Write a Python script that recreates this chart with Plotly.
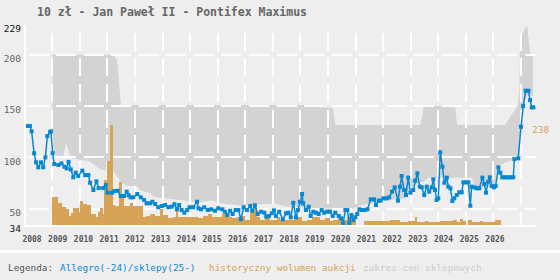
import plotly.graph_objects as go

title = "10 zł - Jan Paweł II - Pontifex Maximus"

# Allegro / shop price series (decimal year, zł)
price_x = [2008.05, 2008.19, 2008.25, 2008.34, 2008.41, 2008.49, 2008.59, 2008.67, 2008.75, 2008.82,
           2008.92, 2008.95, 2009.01, 2009.07, 2009.22, 2009.33, 2009.44, 2009.52, 2009.59, 2009.67,
           2009.76, 2009.85, 2009.94, 2010.09, 2010.19, 2010.31, 2010.37, 2010.49, 2010.60, 2010.68,
           2010.85, 2010.94, 2011.00, 2011.17, 2011.25, 2011.37, 2011.48, 2011.60, 2011.70, 2011.77,
           2011.84, 2011.94, 2012.08, 2012.21, 2012.33, 2012.42, 2012.54, 2012.63, 2012.73, 2012.84,
           2012.97, 2013.09, 2013.21, 2013.33, 2013.43, 2013.52, 2013.60, 2013.69, 2013.79, 2013.89,
           2013.98, 2014.11, 2014.25, 2014.30, 2014.39, 2014.51, 2014.64, 2014.76, 2014.90, 2015.02,
           2015.17, 2015.26, 2015.35, 2015.45, 2015.54, 2015.65, 2015.75, 2015.84, 2015.94, 2016.06,
           2016.18, 2016.25, 2016.35, 2016.45, 2016.57, 2016.69, 2016.76, 2016.86, 2016.96, 2017.04,
           2017.11, 2017.23, 2017.36, 2017.48, 2017.56, 2017.65, 2017.74, 2017.84, 2017.91, 2017.98,
           2018.06, 2018.10, 2018.20, 2018.30, 2018.37, 2018.47, 2018.56, 2018.66, 2018.77, 2018.86,
           2018.97, 2019.07, 2019.17, 2019.26, 2019.39, 2019.48, 2019.55, 2019.63, 2019.70, 2019.77,
           2019.85, 2019.92, 2019.99, 2020.06, 2020.14, 2020.23, 2020.33, 2020.43, 2020.55, 2020.67,
           2020.74, 2020.84, 2020.91, 2021.01, 2021.13, 2021.22, 2021.32, 2021.42, 2021.54, 2021.61,
           2021.67, 2021.76, 2021.83, 2021.91, 2021.99, 2022.09, 2022.16, 2022.24, 2022.33, 2022.40,
           2022.49, 2022.58, 2022.67, 2022.76, 2022.82, 2022.88, 2022.94, 2023.00, 2023.07, 2023.15,
           2023.22, 2023.31, 2023.36, 2023.44, 2023.51, 2023.58, 2023.67, 2023.76, 2023.85, 2023.91,
           2023.99, 2024.09, 2024.16, 2024.21, 2024.31, 2024.39, 2024.49, 2024.60, 2024.67, 2024.73,
           2024.81, 2024.87, 2024.94, 2025.02, 2025.08, 2025.18, 2025.25, 2025.32, 2025.40, 2025.47,
           2025.54, 2025.62, 2025.72, 2025.76, 2025.90, 2026.00, 2026.08, 2026.17, 2026.27, 2026.33,
           2026.39, 2026.45]
price_y = [130.5, 130.5, 125.3, 103.9, 95.1, 90.2, 95.1, 90.2, 100.0, 120.7,
           124.6, 125.3, 104.0, 93.5, 92.5, 94.1, 90.8, 89.2, 95.6, 88.2,
           80.5, 85.0, 81.8, 87.0, 82.7, 82.7, 75.2, 68.1, 76.5, 70.0,
           70.0, 73.0, 65.5, 65.5, 67.1, 67.4, 62.3, 62.3, 66.5, 63.0,
           61.0, 61.0, 64.2, 61.0, 58.4, 55.2, 55.2, 56.7, 54.5, 51.3,
           52.5, 53.5, 51.3, 51.8, 54.2, 49.3, 53.5, 48.6, 46.0, 48.6,
           51.3, 51.3, 56.7, 50.3, 49.3, 51.3, 48.6, 49.3, 47.9, 50.3,
           49.3, 47.0, 43.7, 47.9, 44.7, 48.6, 48.6, 39.6, 51.3, 48.6,
           52.5, 47.9, 53.2, 44.7, 47.0, 46.0, 42.1, 42.8, 45.4, 48.2,
           42.8, 47.0, 39.6, 45.4, 46.0, 41.5, 55.7, 41.5, 48.6, 56.7,
           64.2, 55.2, 48.6, 51.8, 42.8, 47.0, 46.0, 44.7, 48.6, 46.0,
           47.0, 47.0, 42.8, 46.0, 42.8, 40.5, 35.7, 48.6, 48.6, 35.7,
           43.7, 38.9, 41.5, 44.7, 49.3, 48.6, 48.6, 49.3, 59.0, 59.0,
           53.5, 57.7, 57.7, 60.0, 60.0, 61.0, 66.5, 70.7, 57.7, 71.4,
           81.8, 68.1, 63.2, 80.2, 65.5, 68.1, 77.2, 84.4, 71.4, 70.7,
           63.2, 71.4, 66.5, 70.7, 78.5, 68.1, 58.4, 60.0, 104.9, 90.8,
           75.2, 80.2, 71.4, 69.8, 57.4, 60.0, 63.2, 65.9, 65.9, 75.6,
           75.6, 75.6, 52.8, 71.4, 70.7, 69.8, 69.8, 80.2, 74.0, 65.5,
           76.2, 80.5, 72.0, 70.7, 72.0, 90.2, 85.0, 80.5, 80.5, 80.5,
           80.5, 80.5, 80.5, 98.3, 99.0, 129.8, 150.0, 164.9, 164.9, 155.8,
           148.7, 148.7]

# historical auction volume (segments)
vol_start = [2009.00, 2009.21, 2009.35, 2009.50, 2009.61, 2009.68, 2009.75, 2009.97, 2010.00, 2010.11,
             2010.26, 2010.40, 2010.44, 2010.59, 2010.66, 2010.73, 2010.84, 2010.91, 2010.98, 2011.09,
             2011.20, 2011.27, 2011.42, 2011.53, 2011.60, 2011.71, 2011.82, 2011.93, 2012.07, 2012.29,
             2012.40, 2012.54, 2012.73, 2012.91, 2013.02, 2013.20, 2013.38, 2013.52, 2013.56, 2013.81,
             2014.07, 2014.28, 2014.47, 2014.65, 2014.79, 2014.97, 2015.16, 2015.34, 2015.52, 2015.70,
             2015.88, 2015.99, 2016.17, 2016.28, 2016.42, 2016.53, 2016.72, 2016.90, 2017.15, 2017.26,
             2017.62, 2017.80, 2018.06, 2018.24, 2018.42, 2018.71, 2018.89, 2019.07, 2019.18, 2019.36,
             2019.51, 2019.69, 2019.87,
             2020.31, 2020.52, 2020.89, 2021.25, 2021.61, 2021.90, 2022.16, 2022.23, 2022.52, 2022.63,
             2023.06, 2023.53, 2023.68, 2023.79, 2023.90,
             2024.08, 2024.22, 2024.51, 2024.62, 2025.06]
vol_end = [2009.21, 2009.35, 2009.50, 2009.61, 2009.68, 2009.75, 2009.97, 2010.00, 2010.11, 2010.26,
           2010.40, 2010.44, 2010.59, 2010.66, 2010.73, 2010.84, 2010.91, 2010.98, 2011.09, 2011.20,
           2011.27, 2011.42, 2011.53, 2011.60, 2011.71, 2011.82, 2011.93, 2012.07, 2012.29, 2012.40,
           2012.54, 2012.73, 2012.91, 2013.02, 2013.20, 2013.38, 2013.52, 2013.56, 2013.81, 2014.07,
           2014.28, 2014.47, 2014.65, 2014.79, 2014.97, 2015.16, 2015.34, 2015.52, 2015.70, 2015.88,
           2015.99, 2016.17, 2016.28, 2016.42, 2016.53, 2016.72, 2016.90, 2017.15, 2017.26, 2017.62,
           2017.80, 2018.06, 2018.24, 2018.42, 2018.71, 2018.89, 2019.07, 2019.18, 2019.36, 2019.51,
           2019.69, 2019.87, 2020.02,
           2020.52, 2020.89, 2021.25, 2021.61, 2021.90, 2022.16, 2022.23, 2022.52, 2022.63, 2023.06,
           2023.53, 2023.68, 2023.79, 2023.90, 2024.01,
           2024.22, 2024.51, 2024.62, 2025.06, 2025.28]
vol_value = [66, 52, 42, 37, 21, 29, 40, 31, 58, 50,
             48, 27, 26, 20, 31, 41, 26, 107, 153, 238,
             48, 45, 103, 66, 45, 46, 52, 46, 46, 20,
             21, 26, 21, 37, 24, 16, 18, 40, 18, 20,
             18, 16, 21, 26, 18, 20, 26, 18, 16, 18,
             21, 13, 31, 40, 18, 13, 16, 13, 18, 12,
             13, 18, 10, 12, 18, 13, 16, 10, 12, 16,
             12, 18, 12,
             9, 10, 9, 12, 7, 9, 18, 8, 10, 8,
             9, 13, 8, 15, 10,
             12, 8, 10, 7, 12]

# shop price range
band_x = [2009.00, 2009.10, 2009.28, 2009.39, 2009.50, 2009.66, 2009.71, 2010.08, 2010.37, 2010.73,
          2011.20, 2011.35, 2011.41, 2011.46, 2011.49, 2011.71, 2012.07, 2012.18, 2012.54, 2012.73,
          2013.16, 2013.81, 2014.25, 2014.79, 2015.16, 2015.81, 2017.08, 2017.44, 2018.09, 2019.18,
          2019.27, 2019.80, 2020.16, 2020.52, 2021.14, 2021.79, 2021.90, 2022.34, 2022.43, 2022.46,
          2022.63, 2023.61, 2023.68, 2024.22, 2024.33, 2025.06, 2025.13, 2025.42, 2025.89, 2025.94,
          2025.96, 2026.03, 2026.12, 2026.18, 2026.23, 2026.30, 2026.36, 2026.44]
band_low = [107, 103, 99, 100, 114, 100, 99, 97, 96, 88,
            87, 81, 80, 76, 76, 72, 72, 68, 65, 61,
            60, 58, 56, 58, 55, 53, 55, 52, 51, 50,
            50, 48.6, 53, 55, 58, 60, 68, 76, 76, 76,
            80, 80, 80, 80, 71, 71, 90, 95, 99, 110,
            120, 130, 150, 158, 160, 160, 160, 160]
band_high = [200, 200, 200, 200, 200, 200, 200, 200, 200, 200,
             200, 195, 178, 160, 151, 151, 151, 151, 151, 151,
             151, 151, 151, 151, 151, 151, 151, 151, 151, 148,
             131.5, 131.5, 131.5, 131.5, 131.5, 131.5, 131.5, 131.5, 141, 150,
             150, 150, 131.5, 131.5, 131.5, 131.5, 131.5, 131.5, 151, 166,
             200, 220, 224, 227, 229, 208, 200, 200]

grid_years = list(range(2009, 2027))
year_labels = [str(y) for y in range(2008, 2027)]
grid_prices = [200, 150, 100, 50]
price_ticks = [229, 200, 150, 100, 50, 34]

X0, X1 = 2008.046, 2026.544
Y0, Y1 = 34, 229
VOL_TOP = 476

BG = "#eeeeee"
BLUE = "#0a88cf"
ORANGE = "#d6a357"
BAND = "#d3d3d3"
MONO = "DejaVu Sans Mono"
CLEAR = "rgba(0,0,0,0)"

fig = go.Figure()

# band (subplot 1)
fig.add_trace(go.Scatter(x=band_x, y=band_low, mode="lines", line=dict(width=0, color=BAND),
                         xaxis="x", yaxis="y", showlegend=False, hoverinfo="skip"))
fig.add_trace(go.Scatter(x=band_x, y=band_high, mode="lines", line=dict(width=0, color=BAND),
                         fill="tonexty", fillcolor=BAND, xaxis="x", yaxis="y",
                         showlegend=False, hoverinfo="skip"))

# placeholder trace for grid subplot
fig.add_trace(go.Scatter(x=[X0], y=[Y0], mode="markers", marker=dict(size=1, opacity=0),
                         xaxis="x2", yaxis="y2", showlegend=False, hoverinfo="skip"))

# volume bars (subplot 3)
fig.add_trace(go.Bar(x=[(a + b) / 2 for a, b in zip(vol_start, vol_end)],
                     y=vol_value, width=[b - a for a, b in zip(vol_start, vol_end)],
                     marker=dict(color=ORANGE, line=dict(width=0)),
                     xaxis="x3", yaxis="y3", showlegend=False, hoverinfo="skip"))

# price line (subplot 4)
fig.add_trace(go.Scatter(x=price_x, y=price_y, mode="lines+markers",
                         line=dict(color=BLUE, width=1.5),
                         marker=dict(symbol="square", size=4, color=BLUE, line=dict(width=0)),
                         xaxis="x4", yaxis="y4", showlegend=False, hoverinfo="skip"))

hidden = dict(visible=False, fixedrange=True)
label_pos = [2008.264 + 0.9329 * i for i in range(len(year_labels))]
ytext = []
for v in price_ticks:
    col = "#111111" if v in (229, 34) else "#666666"
    ytext.append(f"<span style='color:{col}'>{v}</span>")

fig.update_layout(
    width=560, height=280,
    margin=dict(l=26, r=24, t=25, b=55, autoexpand=False),
    paper_bgcolor=BG, plot_bgcolor=CLEAR,
    showlegend=False, bargap=0,
    xaxis=dict(range=[X0, X1], anchor="y", **hidden),
    yaxis=dict(range=[Y0, Y1], anchor="x", **hidden),
    xaxis2=dict(range=[X0, X1], anchor="y2", tickmode="array", tickvals=grid_years,
                showticklabels=False, ticks="", showgrid=True, gridcolor="white", gridwidth=1.5,
                griddash="0px,7.64px,18px,0px", zeroline=False,
                showline=True, linecolor="white", linewidth=1.5, fixedrange=True),
    yaxis2=dict(range=[Y0, Y1], anchor="x2", tickmode="array", tickvals=grid_prices,
                showticklabels=False, ticks="", showgrid=True, gridcolor="white", gridwidth=1.5,
                griddash="0px,2.5px,20px,5.07px", zeroline=False,
                showline=True, linecolor="white", linewidth=1.5, fixedrange=True),
    xaxis3=dict(range=[X0, X1], anchor="y3", tickmode="array", tickvals=label_pos,
                ticktext=year_labels, showgrid=False, zeroline=False, showline=False, ticks="",
                ticklabelstandoff=8,
                tickfont=dict(family=MONO, size=8, color="#555555", weight="bold"), fixedrange=True),
    yaxis3=dict(range=[0, VOL_TOP], anchor="x3", **hidden),
    xaxis4=dict(range=[X0, X1], anchor="y4", **hidden),
    yaxis4=dict(range=[Y0, Y1], anchor="x4", tickmode="array", tickvals=price_ticks,
                ticktext=ytext, showgrid=False, zeroline=False, showline=False, ticks="",
                ticklabelstandoff=4, ticklabelshift=4,
                tickfont=dict(family=MONO, size=9.5, color="#666666"), fixedrange=True),
)

vmax = max(vol_value)
fig.add_annotation(x=price_x[-1] - 0.12, y=vmax, xref="x3", yref="y3", text=str(vmax),
                   showarrow=False, xanchor="left", yanchor="middle", yshift=-4,
                   font=dict(family=MONO, size=9.5, color=ORANGE))

fig.add_annotation(x=(35 - 26) / 510, y=(225 - 12) / 200, xref="paper", yref="paper",
                   text=f"<b>{title}</b>", showarrow=False, xanchor="left", yanchor="middle",
                   font=dict(family=MONO, size=11.5, color="#666666"))

legend_items = [("Legenda:", "#555555", 8.3), ("Allegro(-24)/sklepy(25-)", BLUE, 59.5),
                ("historyczny wolumen aukcji", ORANGE, 209), ("zakres cen sklepowych", "#cccccc", 363)]
for txt, col, px in legend_items:
    fig.add_annotation(x=(px - 2 - 26) / 510, y=-(267.7 - 225) / 200, xref="paper", yref="paper",
                       text=txt, showarrow=False, xanchor="left", yanchor="middle",
                       font=dict(family=MONO, size=9.4, color=col))

fig.add_shape(type="line", xref="paper", yref="paper", x0=-0.06, x1=1.06,
              y0=-(251.5 - 225) / 200, y1=-(251.5 - 225) / 200,
              line=dict(color="white", width=3))

fig.write_html("out.html")
